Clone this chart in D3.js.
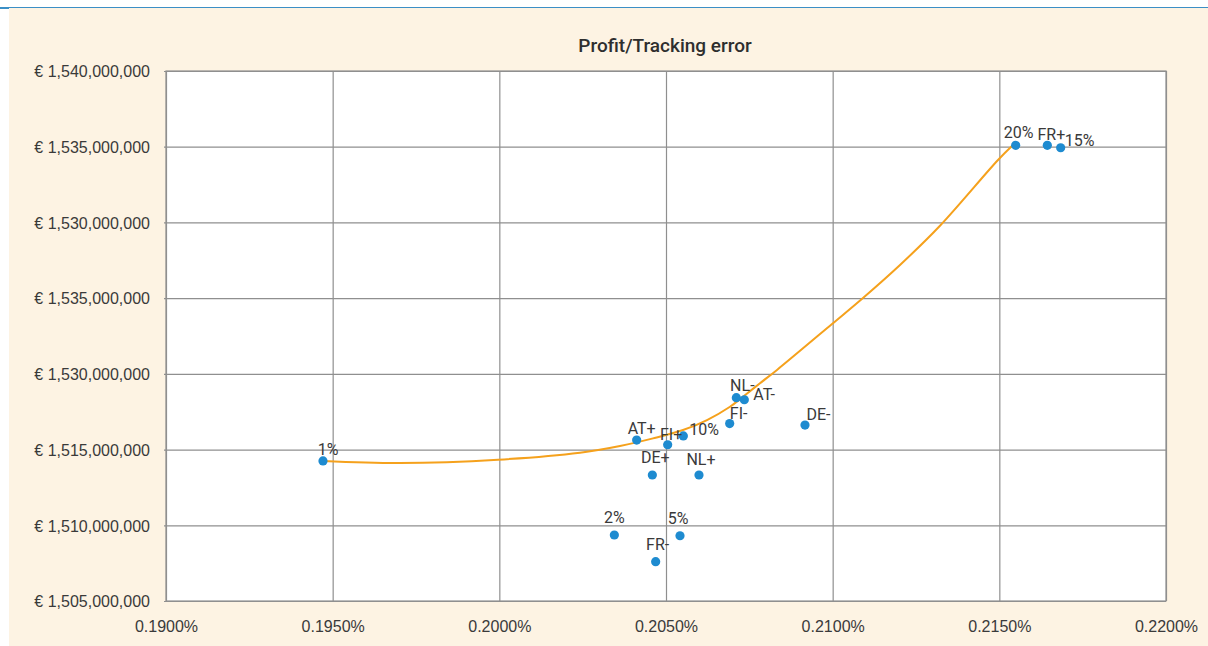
<!DOCTYPE html>
<html>
<head>
<meta charset="utf-8">
<script src="https://cdn.jsdelivr.net/npm/d3@7"></script>
<style>
  html, body { margin: 0; padding: 0; background: #ffffff; }
  svg { display: block; font-family: Roboto, "Noto Sans", sans-serif; }
</style>
</head>
<body>
<svg id="chart" width="1208" height="646"></svg>
<script>
// ---- data ----
const pointNames = ["1%", "2%", "5%", "10%", "15%", "20%", "FR+", "FR-", "AT+", "AT-", "NL-", "NL+", "DE+", "DE-", "FI+", "FI-"];
const trackingError = [0.19471, 0.20345, 0.20542, 0.20552, 0.21684, 0.21549, 0.21644, 0.20469, 0.20412, 0.20735, 0.20711, 0.20599, 0.20459, 0.20917, 0.20505, 0.20691];
const profit = [1514250000, 1509360000, 1509310000, 1515900000, 1534930000, 1535090000, 1535090000, 1507600000, 1515630000, 1518290000, 1518430000, 1513320000, 1513320000, 1516620000, 1515320000, 1516720000];

const curveTE = [0.19471, 0.19702, 0.19996, 0.20242, 0.20362, 0.20461, 0.20551, 0.20623, 0.20692, 0.20731, 0.20782, 0.20833, 0.20998, 0.21091, 0.21202, 0.21322, 0.21496, 0.21541];
const curveProfit = [1514250000, 1514110000, 1514330000, 1514790000, 1515240000, 1515740000, 1516290000, 1516950000, 1517830000, 1518490000, 1519380000, 1520260000, 1523290000, 1525010000, 1527190000, 1529780000, 1534120000, 1535110000];

const xTickValues = [0.19, 0.195, 0.20, 0.205, 0.21, 0.215, 0.22];
const yTickValues = [1505000000, 1510000000, 1515000000, 1520000000, 1525000000, 1530000000, 1535000000, 1540000000];
const yTickLabels = ["€ 1,505,000,000", "€ 1,510,000,000", "€ 1,515,000,000", "€ 1,530,000,000", "€ 1,535,000,000", "€ 1,530,000,000", "€ 1,535,000,000", "€ 1,540,000,000"];
const chartTitle = "Profit/Tracking error";

// ---- label placement (style) ----
const labelStyle = {
  "1%":  { anchor: "middle", dx: 5,   dy: -6 },
  "2%":  { anchor: "middle", dx: 0,   dy: -12 },
  "5%":  { anchor: "middle", dx: -2,  dy: -12 },
  "10%": { anchor: "start",  dx: 6,   dy: -1 },
  "15%": { anchor: "start",  dx: 4,   dy: -2 },
  "20%": { anchor: "middle", dx: 3,   dy: -7 },
  "FR+": { anchor: "middle", dx: 4,   dy: -5 },
  "FR-": { anchor: "middle", dx: 2,   dy: -12 },
  "AT+": { anchor: "middle", dx: 5,   dy: -6 },
  "AT-": { anchor: "start",  dx: 9,   dy: 0 },
  "NL-": { anchor: "middle", dx: 6,   dy: -7 },
  "NL+": { anchor: "middle", dx: 2,   dy: -10 },
  "DE+": { anchor: "middle", dx: 3,   dy: -12 },
  "DE-": { anchor: "middle", dx: 13.5, dy: -5 },
  "FI+": { anchor: "middle", dx: 3.5, dy: -5 },
  "FI-": { anchor: "middle", dx: 9,   dy: -5 }
};

const W = 1208, H = 646;
const plot = { left: 166, right: 1166, top: 71, bottom: 601 };
const textColor = "#3a3a3a";
const gridColor = "#8f8f8f";

const svg = d3.select("#chart");

// background panel
svg.append("rect").attr("x", 9).attr("y", 8).attr("width", W - 9).attr("height", H - 8).attr("fill", "#fdf3e3");
svg.append("line").attr("x1", 0).attr("x2", W).attr("y1", 7.5).attr("y2", 7.5).attr("stroke", "#3b8fc6").attr("stroke-width", 1);
svg.append("line").attr("x1", 0).attr("x2", 9).attr("y1", 8.5).attr("y2", 8.5).attr("stroke", "#3b8fc6").attr("stroke-width", 1);

// plot area
svg.append("rect").attr("x", plot.left).attr("y", plot.top)
  .attr("width", plot.right - plot.left).attr("height", plot.bottom - plot.top)
  .attr("fill", "#ffffff");

const x = d3.scaleLinear().domain([0.19, 0.22]).range([plot.left, plot.right]);
const y = d3.scaleLinear().domain([1505000000, 1540000000]).range([plot.bottom, plot.top]);

// vertical grid + x axis
const xAxis = d3.axisBottom(x).tickValues(xTickValues)
  .tickSize(-(plot.bottom - plot.top)).tickPadding(20)
  .tickFormat(d => d3.format(".4f")(d) + "%");
const gx = svg.append("g").attr("transform", `translate(0,${plot.bottom})`).call(xAxis);
gx.select(".domain").remove();
gx.selectAll(".tick line").attr("stroke", gridColor).attr("stroke-width", 1.2);
gx.selectAll(".tick text").attr("fill", textColor).attr("font-size", 16).attr("dy", "0.71em");

// horizontal grid + y axis
const yAxis = d3.axisLeft(y).tickValues(yTickValues)
  .tickSize(-(plot.right - plot.left)).tickSizeOuter(0).tickPadding(16)
  .tickFormat((d, i) => yTickLabels[i]);
const gy = svg.append("g").attr("transform", `translate(${plot.left},0)`).call(yAxis);
gy.select(".domain").remove();
gy.selectAll(".tick line").attr("stroke", gridColor).attr("stroke-width", 1.2).attr("x1", -2);
gy.selectAll(".tick text").attr("fill", textColor).attr("font-size", 16).attr("dy", "0.36em");

// plot border
svg.append("rect").attr("x", plot.left).attr("y", plot.top)
  .attr("width", plot.right - plot.left).attr("height", plot.bottom - plot.top)
  .attr("fill", "none").attr("stroke", gridColor).attr("stroke-width", 1.2);

// curve
const curveData = curveTE.map((t, i) => [t, curveProfit[i]]);
svg.append("path").datum(curveData)
  .attr("fill", "none").attr("stroke", "#f5a11c").attr("stroke-width", 2)
  .attr("d", d3.line().x(d => x(d[0])).y(d => y(d[1])).curve(d3.curveCatmullRom.alpha(0.5)));

// points
const pts = pointNames.map((n, i) => ({ name: n, te: trackingError[i], p: profit[i] }));
svg.append("g").selectAll("circle").data(pts).join("circle")
  .attr("cx", d => x(d.te)).attr("cy", d => y(d.p)).attr("r", 4.6)
  .attr("fill", "#1e8bd0");

// labels
svg.append("g").selectAll("text").data(pts).join("text")
  .attr("x", d => x(d.te) + labelStyle[d.name].dx)
  .attr("y", d => y(d.p) + labelStyle[d.name].dy)
  .attr("text-anchor", d => labelStyle[d.name].anchor)
  .attr("font-size", 16).attr("fill", textColor)
  .text(d => d.name);

// title
svg.append("text").attr("x", 665).attr("y", 52)
  .attr("text-anchor", "middle").attr("font-size", 19).attr("font-weight", 500)
  .attr("fill", "#2e2e2e").text(chartTitle);
</script>
</body>
</html>
